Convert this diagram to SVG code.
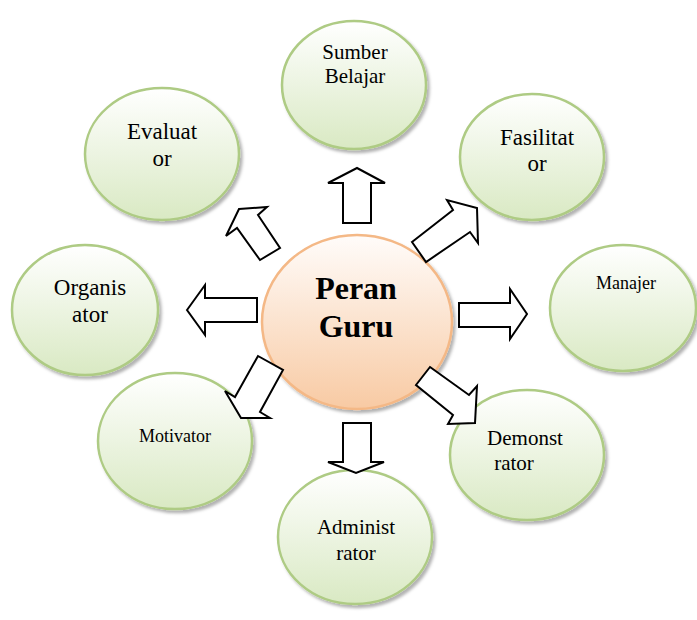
<svg xmlns="http://www.w3.org/2000/svg" width="697" height="620" viewBox="0 0 697 620">
<defs>
<linearGradient id="gGreen" x1="0" y1="0" x2="0" y2="1">
<stop offset="0" stop-color="#ffffff"/>
<stop offset="1" stop-color="#d9e9c3"/>
</linearGradient>
<linearGradient id="gOrange" x1="0" y1="0" x2="0" y2="1">
<stop offset="0" stop-color="#fffcfa"/>
<stop offset="1" stop-color="#f8caa3"/>
</linearGradient>
<filter id="sh" x="-10%" y="-10%" width="125%" height="125%">
<feDropShadow dx="2.5" dy="3" stdDeviation="1.5" flood-color="#000" flood-opacity="0.3"/>
</filter>
</defs>
<style>
.n{fill:url(#gGreen);stroke:#aecb84;stroke-width:2.5;filter:url(#sh)}
.c{fill:url(#gOrange);stroke:#f4b886;stroke-width:2.5;filter:url(#sh)}
.t{font-family:"Liberation Serif","Times New Roman",serif;fill:#000;text-anchor:middle}
.a{fill:#fff;stroke:#000;stroke-width:2;stroke-linejoin:miter}
</style>
<rect width="697" height="620" fill="#fff"/>
<g id="sumber">
<ellipse class="n" cx="354" cy="85" rx="72" ry="64"/>
<text class="t" x="355" y="59" font-size="21">Sumber</text>
<text class="t" x="355" y="83" font-size="21">Belajar</text>
</g>
<g id="evaluator">
<ellipse class="n" cx="162" cy="154" rx="77" ry="66"/>
<text class="t" x="162" y="139" font-size="23">Evaluat</text>
<text class="t" x="162" y="166" font-size="23">or</text>
</g>
<g id="fasilitator">
<ellipse class="n" cx="532" cy="157" rx="72" ry="63"/>
<text class="t" x="537" y="145" font-size="23">Fasilitat</text>
<text class="t" x="537" y="171" font-size="23">or</text>
</g>
<g id="organisator">
<ellipse class="n" cx="85" cy="310" rx="73" ry="65"/>
<text class="t" x="90" y="295" font-size="23">Organis</text>
<text class="t" x="90" y="322" font-size="23">ator</text>
</g>
<g id="manajer">
<ellipse class="n" cx="623" cy="308" rx="73" ry="63"/>
<text class="t" x="626" y="289" font-size="18">Manajer</text>
</g>
<g id="motivator">
<ellipse class="n" cx="175" cy="441" rx="77" ry="68"/>
<text class="t" x="175" y="442" font-size="18">Motivator</text>
</g>
<g id="demonstrator">
<ellipse class="n" cx="527" cy="455" rx="77" ry="65"/>
<text class="t" x="525" y="445" font-size="21">Demonst</text>
<text class="t" x="514" y="470" font-size="21">rator</text>
</g>
<g id="administrator">
<ellipse class="n" cx="355" cy="537" rx="77" ry="67"/>
<text class="t" x="356" y="534" font-size="21">Administ</text>
<text class="t" x="356" y="560" font-size="21">rator</text>
</g>
<g id="peran-guru">
<ellipse class="c" cx="357" cy="322" rx="95" ry="87"/>
<text class="t" x="356" y="299" font-size="32" font-weight="bold">Peran</text>
<text class="t" x="356" y="337" font-size="32" font-weight="bold">Guru</text>
</g>
<g id="connectors">
<polygon class="a" points="357,168 385,183 371,183 371,223 343,223 343,183 328,183"/>
<polygon class="a" points="187,310 205,285 205,298 257,298 257,322 205,322 205,335"/>
<polygon class="a" points="459,303 510,303 510,289 527,314 510,339 510,327 459,327"/>
<polygon class="a" points="343,423 371,423 371,462 384,462 356,473 328,462 343,462"/>
<polygon class="a" points="239,209 267,207 258,215 280,248 260,260 237,228 226,236"/>
<polygon class="a" points="258,356 283,370 260,412 270,418 241,418 225,391 235,397"/>
<polygon class="a" points="412,242 453,210 447,200 477,208 478,243 470,232 426,262"/>
<polygon class="a" points="430,367 469,395 477,386 475,423 448,424 453,415 416,385"/>
</g>
</svg>
